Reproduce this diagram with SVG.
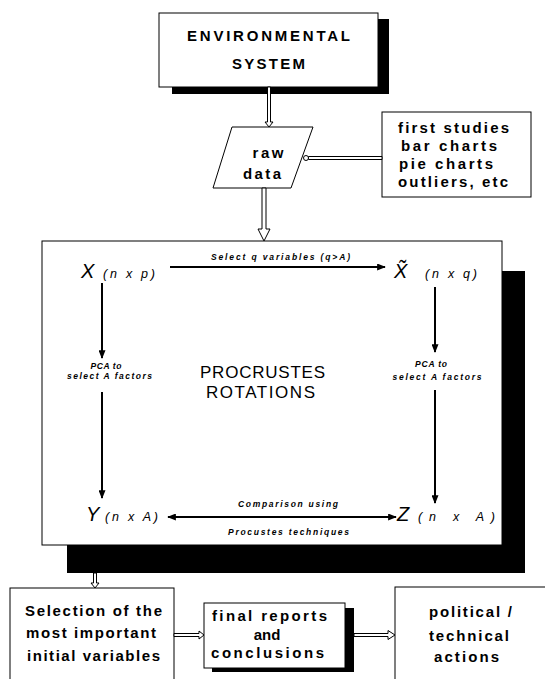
<svg xmlns="http://www.w3.org/2000/svg" width="545" height="679" viewBox="0 0 545 679">
<style>
.bg{fill:#fff}
.box{fill:#fff;stroke:#000;stroke-width:1}
.sh{fill:#000}
.t{font-family:"Liberation Sans",Arial,"DejaVu Sans",sans-serif;font-weight:bold;font-size:15px;fill:#000}
.ts{font-family:"Liberation Sans",Arial,"DejaVu Sans",sans-serif;font-weight:normal;font-size:17px;fill:#000}
.big{font-family:"Liberation Sans",Arial,"DejaVu Sans",sans-serif;font-style:italic;font-size:20px;fill:#000}
.dim{font-family:"Liberation Sans",Arial,"DejaVu Sans",sans-serif;font-style:italic;font-size:12.5px;fill:#000}
.lbl{font-family:"Liberation Sans",Arial,"DejaVu Sans",sans-serif;font-style:italic;font-weight:bold;font-size:8.5px;fill:#000}
.ln{stroke:#000;stroke-width:2;fill:none}
.hol{fill:#fff;stroke:#000;stroke-width:1}
</style>
<defs>
<marker id="ah" viewBox="0 0 10 8" refX="9" refY="4" markerWidth="9" markerHeight="7" markerUnits="userSpaceOnUse" orient="auto-start-reverse">
<path d="M0,0 L10,4 L0,8 z" fill="#000"/>
</marker>
</defs>
<rect class="bg" x="0" y="0" width="545" height="679"/>

<g id="env">
<rect class="sh" x="172" y="19" width="217" height="75"/>
<rect class="box" x="159" y="13" width="219" height="74"/>
<text class="t" x="268.5" y="41" font-size="14.5" text-anchor="middle" textLength="163" lengthAdjust="spacing">ENVIRONMENTAL</text>
<text class="t" x="268.5" y="69" font-size="14.5" text-anchor="middle" textLength="73" lengthAdjust="spacing">SYSTEM</text>
</g>

<g id="raw">
<polygon class="box" points="232,127 313,127 291,188 213,188"/>
<text class="t" x="268" y="158" font-size="16" text-anchor="middle" textLength="31" lengthAdjust="spacing">raw</text>
<text class="t" x="262" y="179" font-size="16" text-anchor="middle" textLength="38" lengthAdjust="spacing">data</text>
</g>

<g id="first">
<rect class="box" x="382" y="112" width="149" height="85"/>
<text class="t" x="398" y="133" textLength="111" lengthAdjust="spacing">first studies</text>
<text class="t" x="401" y="151" textLength="96" lengthAdjust="spacing">bar charts</text>
<text class="t" x="399" y="169" textLength="94" lengthAdjust="spacing">pie charts</text>
<text class="t" x="398" y="187" textLength="110" lengthAdjust="spacing">outliers, etc</text>
</g>

<g id="procrustes">
<rect class="sh" x="67" y="271" width="458" height="302"/>
<rect class="box" x="42" y="241" width="460" height="304"/>
<text class="ts" x="262.5" y="378" text-anchor="middle" textLength="125" lengthAdjust="spacing">PROCRUSTES</text>
<text class="ts" x="260.5" y="398" text-anchor="middle" textLength="109" lengthAdjust="spacing">ROTATIONS</text>
</g>

<g id="nodeX">
<text class="big" x="81" y="278">X</text>
<text class="dim" x="103" y="278" textLength="52" lengthAdjust="spacing">(n x p)</text>
</g>
<g id="nodeXt">
<text class="big" x="394" y="278">X&#771;</text>
<text class="dim" x="425" y="278" textLength="52" lengthAdjust="spacing">(n x q)</text>
</g>
<g id="nodeY">
<text class="big" x="86" y="521">Y</text>
<text class="dim" x="105" y="521" textLength="53" lengthAdjust="spacing">(n x A)</text>
</g>
<g id="nodeZ">
<text class="big" x="397" y="521">Z</text>
<text class="dim" x="418" y="521" textLength="77" lengthAdjust="spacing">(n x A)</text>
</g>

<g id="sel">
<rect class="box" x="10" y="588" width="164" height="100"/>
<text class="t" x="25" y="616" textLength="137" lengthAdjust="spacing">Selection of the</text>
<text class="t" x="26" y="638" textLength="130" lengthAdjust="spacing">most important</text>
<text class="t" x="27" y="661" textLength="133" lengthAdjust="spacing">initial variables</text>
</g>

<g id="final">
<rect class="sh" x="212" y="608" width="142" height="64"/>
<rect class="box" x="204" y="603" width="141" height="65"/>
<text class="t" x="269.5" y="621" text-anchor="middle" textLength="115" lengthAdjust="spacing">final reports</text>
<text class="t" x="267" y="640" text-anchor="middle">and</text>
<text class="t" x="267.5" y="658" text-anchor="middle" textLength="113" lengthAdjust="spacing">conclusions</text>
</g>

<g id="actions">
<rect class="box" x="395" y="587" width="160" height="100"/>
<text class="t" x="429" y="617" textLength="83" lengthAdjust="spacing">political /</text>
<text class="t" x="429" y="641" textLength="80" lengthAdjust="spacing">technical</text>
<text class="t" x="434" y="662" textLength="65" lengthAdjust="spacing">actions</text>
</g>

<g id="connectors">
<polygon class="hol" points="267.5,87 270.5,87 270.5,122 273,122 269,127 265,122 267.5,122"/>
<polygon class="hol" points="262,188 266,188 266,229 270,229 264,241 258,229 262,229"/>
<polygon class="hol" points="382,156.5 382,159.5 308.5,159.5 308.5,156.5"/>
<circle class="hol" cx="306" cy="158" r="2.5"/>
<polygon class="hol" points="93.5,573 96.5,573 96.5,583 99,583 95,588 91,583 93.5,583"/>
<polygon class="hol" points="174,633.5 174,636.5 199,636.5 199,639 204,635 199,631 199,633.5"/>
<polygon class="hol" points="354,633.5 354,636.5 388,636.5 388,639.5 395,635 388,630.5 388,633.5"/>

<line class="ln" x1="170" y1="267" x2="385" y2="267" marker-end="url(#ah)"/>
<text class="lbl" x="211" y="260" textLength="139" lengthAdjust="spacing">Select q variables (q&gt;A)</text>

<line class="ln" x1="102" y1="283" x2="102" y2="358" marker-end="url(#ah)"/>
<line class="ln" x1="102" y1="392" x2="102" y2="498" marker-end="url(#ah)"/>
<text class="lbl" x="106" y="369" text-anchor="middle" textLength="31" lengthAdjust="spacing">PCA to</text>
<text class="lbl" x="109.5" y="379" text-anchor="middle" textLength="85" lengthAdjust="spacing">select A factors</text>

<line class="ln" x1="435" y1="287" x2="435" y2="352" marker-end="url(#ah)"/>
<line class="ln" x1="435" y1="390" x2="435" y2="503" marker-end="url(#ah)"/>
<text class="lbl" x="431" y="367" text-anchor="middle" textLength="32" lengthAdjust="spacing">PCA to</text>
<text class="lbl" x="437" y="380" text-anchor="middle" textLength="89" lengthAdjust="spacing">select A factors</text>

<line class="ln" x1="168" y1="517" x2="396" y2="517" marker-start="url(#ah)" marker-end="url(#ah)"/>
<text class="lbl" x="288" y="507" text-anchor="middle" textLength="100" lengthAdjust="spacing">Comparison using</text>
<text class="lbl" x="288.5" y="535" text-anchor="middle" textLength="121" lengthAdjust="spacing">Procustes techniques</text>
</g>
</svg>
